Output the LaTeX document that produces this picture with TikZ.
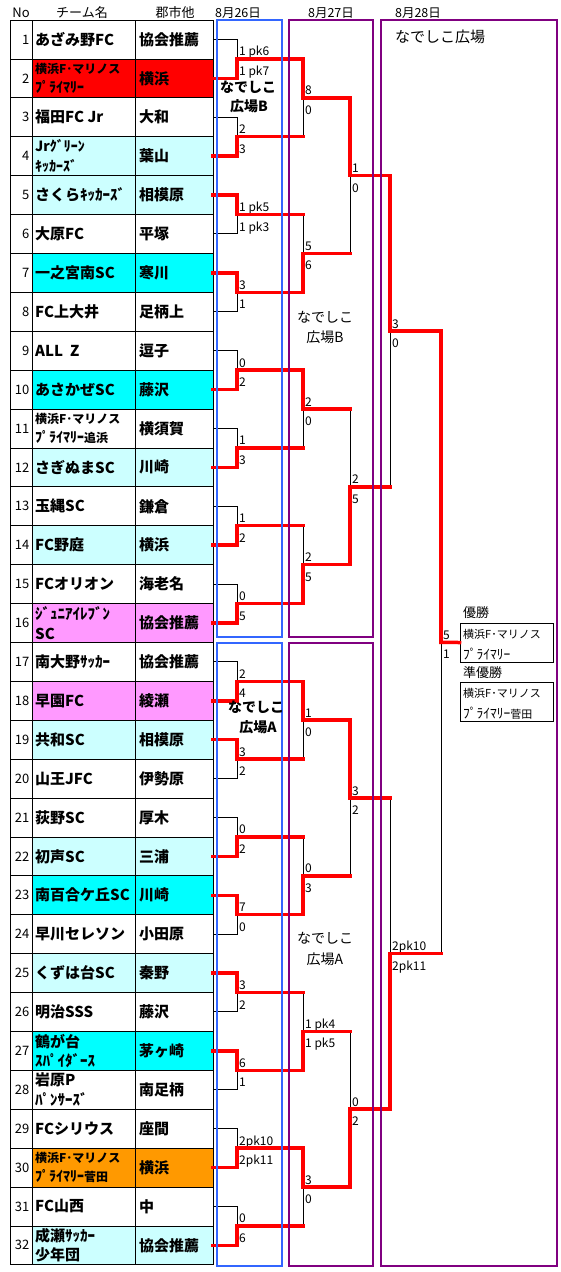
\documentclass[tikz,border=0pt]{standalone}
\usepackage{fontspec}
\setmainfont{Noto Sans CJK JP}
\newcommand\hw[2][14]{{\fontsize{#1}{19.5}\selectfont #2}}
\definecolor{lcyan}{RGB}{204,255,255}
\definecolor{cyanf}{RGB}{0,255,255}
\definecolor{pinkf}{RGB}{255,153,255}
\definecolor{orangef}{RGB}{255,153,0}
\definecolor{redf}{RGB}{255,0,0}
\definecolor{boxblue}{RGB}{51,102,255}
\definecolor{boxpurple}{RGB}{128,0,128}
\def\rh{38.9}
\tikzset{
  cell/.style={draw=black,line width=0.8pt},
  bk/.style={draw=black,line width=1pt},
  win/.style={draw=red,line width=3.5pt,line cap=rect},
  score/.style={anchor=base west,inner sep=0pt,font=\fontsize{12}{12}\selectfont},
  numf/.style={anchor=east,inner sep=0pt,font=\fontsize{13}{13}\selectfont},
  tA/.style={anchor=west,inner sep=0pt,font=\bfseries\fontsize{15}{15}\selectfont},
  tB/.style={anchor=west,inner sep=0pt,align=left,font=\bfseries\fontsize{12}{19.5}\selectfont},
  tC/.style={anchor=west,inner sep=0pt,align=left,font=\bfseries\fontsize{15}{19.5}\selectfont},
  cityf/.style={anchor=west,inner sep=0pt,font=\bfseries\fontsize{15}{15}\selectfont},
  venueB/.style={inner sep=0pt,font=\bfseries\fontsize{14}{14}\selectfont},
  venueP/.style={inner sep=0pt,font=\fontsize{14}{14}\selectfont},
  head/.style={inner sep=0pt,font=\fontsize{13}{13}\selectfont},
  datef/.style={inner sep=0pt,font=\fontsize{12.5}{12.5}\selectfont},
  bluebox/.style={draw=boxblue,line width=2pt},
  purplebox/.style={draw=boxpurple,line width=2pt},
  resbox/.style={draw=black,line width=1pt,minimum width=93pt,minimum height=39pt,inner sep=0pt},
  restext/.style={anchor=west,inner sep=0pt,font=\fontsize{11}{11}\selectfont},
  reslabel/.style={anchor=west,inner sep=0pt,font=\fontsize{13}{13}\selectfont},
}
% P X U L J W upper lower loser-horizontal-style
\newcommand\bout[9]{%
  \draw[bk] (#1,{20+#3*\rh}) -- (#2,{20+#3*\rh}) -- (#2,{20+#4*\rh}) -- (#1,{20+#4*\rh});
  \draw[#9] (#1,{20+#3*\rh}) -- (#2,{20+#3*\rh}) (#1,{20+#4*\rh}) -- (#2,{20+#4*\rh});
  \draw[win] (#1,{20+#6*\rh}) -- (#2,{20+#6*\rh}) -- (#2,{20+#5*\rh});
  \node[score] at (#2+2,{20+#5*\rh-3}) {#7};
  \node[score] at (#2+2,{20+#5*\rh+16.5}) {#8};
}
\begin{document}
\begin{tikzpicture}[x=1pt,y=-1pt]
\useasboundingbox (0,0) rectangle (561,1272);

% headers
\node[head] (hno) at (21,13) {No};
\node[head] (hteam) at (82,13) {チーム名};
\node[head] (hcity) at (175,13) {郡市他};
\node[datef] (d26) at (238,13) {8月26日};
\node[datef] (d27) at (331,13) {8月27日};
\node[datef] (d28) at (418,13) {8月28日};

% table rows
\foreach \i/\nm/\ct/\fc/\st in {
 1/あざみ野FC/協会推薦/white/tA,
 2/{横浜F･マリノス\\\hw{ﾌﾟﾗｲﾏﾘｰ}}/横浜/redf/tB,
 3/福田FC Jr/大和/white/tA,
 4/{\hw{Jrｸﾞﾘｰﾝ}\\\hw{ｷｯｶｰｽﾞ}}/葉山/lcyan/tB,
 5/さくらｷｯｶｰｽﾞ/相模原/lcyan/tA,
 6/大原FC/平塚/white/tA,
 7/一之宮南SC/寒川/cyanf/tA,
 8/FC上大井/足柄上/white/tA,
 9/ALL\hspace{7pt}Z/逗子/white/tA,
 10/あさかぜSC/藤沢/cyanf/tA,
 11/{横浜F･マリノス\\\hw{ﾌﾟﾗｲﾏﾘｰ}追浜}/横須賀/white/tB,
 12/さぎぬまSC/川崎/lcyan/tA,
 13/玉縄SC/鎌倉/white/tA,
 14/FC野庭/横浜/lcyan/tA,
 15/FCオリオン/海老名/white/tA,
 16/{ｼﾞｭﾆｱｲﾚﾌﾞﾝ\\SC}/協会推薦/pinkf/tC,
 17/南大野ｻｯｶｰ/協会推薦/white/tA,
 18/早園FC/綾瀬/pinkf/tA,
 19/共和SC/相模原/lcyan/tA,
 20/山王JFC/伊勢原/white/tA,
 21/荻野SC/厚木/white/tA,
 22/初声SC/三浦/lcyan/tA,
 23/南百合ケ丘SC/川崎/cyanf/tA,
 24/早川セレソン/小田原/white/tA,
 25/くずは台SC/秦野/lcyan/tA,
 26/明治SSS/藤沢/white/tA,
 27/{鶴が台\\ｽﾊﾟｲﾀﾞｰｽ}/茅ヶ崎/cyanf/tC,
 28/{岩原P\\ﾊﾟﾝｻｰｽﾞ}/南足柄/white/tC,
 29/FCシリウス/座間/white/tA,
 30/{横浜F･マリノス\\\hw{ﾌﾟﾗｲﾏﾘｰ}菅田}/横浜/orangef/tB,
 31/FC山西/中/white/tA,
 32/{成瀬ｻｯｶｰ\\少年団}/協会推薦/lcyan/tC}{
  \pgfmathsetmacro\yt{20+(\i-1)*\rh}
  \pgfmathsetmacro\yb{20+\i*\rh}
  \pgfmathsetmacro\yc{20+(\i-0.5)*\rh}
  \fill[\fc] (32,\yt) rectangle (213,\yb);
  \node[numf] (no\i) at (29.5,\yc) {\i};
  \node[\st] (tm\i) at (35,\yc) {\nm};
  \node[cityf] (ct\i) at (139,\yc) {\ct};
}
% grid
\draw[cell] (10,20) rectangle (213,{20+32*\rh});
\draw[cell] (32,20) -- (32,{20+32*\rh}) (135,20) -- (135,{20+32*\rh});
\foreach \i in {1,...,31} \draw[cell] (10,{20+\i*\rh}) -- (213,{20+\i*\rh});

% round 1
\bout{213}{237}{0.5}{1.5}{1}{1.5}{1 pk6}{1 pk7}{bk}
\bout{213}{237}{2.5}{3.5}{3}{3.5}{2}{3}{bk}
\bout{213}{237}{4.5}{5.5}{5}{4.5}{1 pk5}{1 pk3}{bk}
\bout{213}{237}{6.5}{7.5}{7}{6.5}{3}{1}{bk}
\bout{213}{237}{8.5}{9.5}{9}{9.5}{0}{2}{bk}
\bout{213}{237}{10.5}{11.5}{11}{11.5}{1}{3}{bk}
\bout{213}{237}{12.5}{13.5}{13}{13.5}{1}{2}{bk}
\bout{213}{237}{14.5}{15.5}{15}{15.5}{0}{5}{bk}
\bout{213}{237}{16.5}{17.5}{17}{17.5}{2}{4}{bk}
\bout{213}{237}{18.5}{19.5}{19}{18.5}{3}{2}{bk}
\bout{213}{237}{20.5}{21.5}{21}{21.5}{0}{2}{bk}
\bout{213}{237}{22.5}{23.5}{23}{22.5}{7}{0}{bk}
\bout{213}{237}{24.5}{25.5}{25}{24.5}{3}{2}{bk}
\bout{213}{237}{26.5}{27.5}{27}{26.5}{6}{1}{bk}
\bout{213}{237}{28.5}{29.5}{29}{29.5}{2pk10}{2pk11}{bk}
\bout{213}{237}{30.5}{31.5}{31}{31.5}{0}{6}{bk}
% round 2
\bout{237}{303}{1}{3}{2}{1}{8}{0}{win}
\bout{237}{303}{5}{7}{6}{7}{5}{6}{win}
\bout{237}{303}{9}{11}{10}{9}{2}{0}{win}
\bout{237}{303}{13}{15}{14}{15}{2}{5}{win}
\bout{237}{303}{17}{19}{18}{17}{1}{0}{win}
\bout{237}{303}{21}{23}{22}{23}{0}{3}{win}
\bout{237}{303}{25}{27}{26}{27}{1 pk4}{1 pk5}{win}
\bout{237}{303}{29}{31}{30}{29}{3}{0}{win}
% round 3
\bout{303}{350}{2}{6}{4}{2}{1}{0}{win}
\bout{303}{350}{10}{14}{12}{14}{2}{5}{win}
\bout{303}{350}{18}{22}{20}{18}{3}{2}{win}
\bout{303}{350}{26}{30}{28}{30}{0}{2}{win}
% round 4
\bout{350}{390}{4}{12}{8}{4}{3}{0}{win}
\bout{350}{390}{20}{28}{24}{28}{2pk10}{2pk11}{win}
% final
\bout{390}{441}{8}{24}{16}{8}{5}{1}{win}

% result boxes
\node[resbox] (champ) at (506.5,642.5) {};
\node[resbox] (runner) at (506.5,701.5) {};
\draw[win] (441,{20+16*\rh}) -- (champ.west);
\node[reslabel] (lchamp) at (463,613) {優勝};
\node[reslabel] (lrunner) at (463,672.5) {準優勝};
\node[restext] (c1) at (463,634) {横浜F･マリノス};
\node[restext] (c2) at (463,654) {\hw[13.5]{ﾌﾟﾗｲﾏﾘｰ}};
\node[restext] (r1) at (463,693) {横浜F･マリノス};
\node[restext] (r2) at (463,713) {\hw[13.5]{ﾌﾟﾗｲﾏﾘｰ}菅田};

% venue boxes
\draw[bluebox] (217,20) rectangle (282,637);
\draw[bluebox] (217,643) rectangle (282,1266);
\draw[purplebox] (289,20) rectangle (373,637);
\draw[purplebox] (289,643) rectangle (373,1266);
\draw[purplebox] (381,20) rectangle (557,1266);

\node[venueB] (vb1) at (248,87) {なでしこ};
\node[venueB] (vb2) at (249,106) {広場B};
\node[venueB] (va1) at (256,707) {なでしこ};
\node[venueB] (va2) at (258,727) {広場A};
\node[venueP] (pb1) at (325,317) {なでしこ};
\node[venueP] (pb2) at (325,337) {広場B};
\node[venueP] (pa1) at (325,938) {なでしこ};
\node[venueP] (pa2) at (325,959) {広場A};
\node[venueP,font=\fontsize{15}{15}\selectfont] (pf) at (440,37) {なでしこ広場};
\end{tikzpicture}
\end{document}
